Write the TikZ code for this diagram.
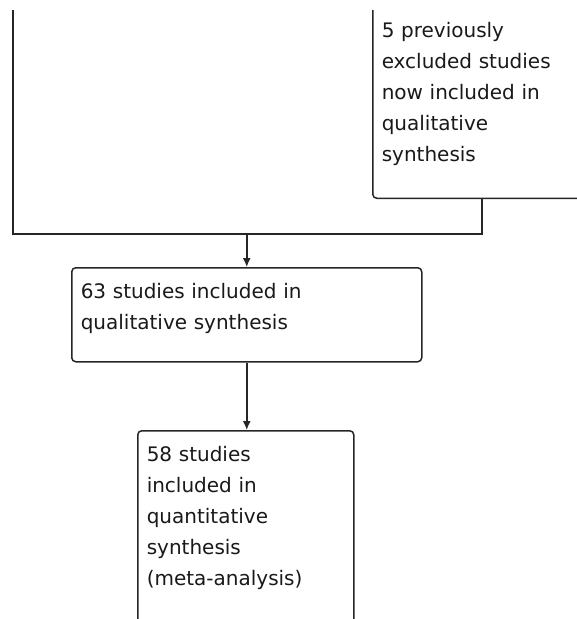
\documentclass[tikz,border=0pt]{standalone}
\usepackage{fontspec}
\setmainfont{DejaVu Sans}
\usetikzlibrary{arrows.meta}
\tikzset{
    flowbox/.style={draw=black!85, line width=1.5pt, rounded corners=4pt, align=left,
        inner xsep=9pt, inner ysep=16pt, text height=15pt,
        font=\fontsize{20}{31}\selectfont, text=black!90},
    flowline/.style={draw=black!85, line width=1.5pt},
    flowarrow/.style={flowline, -{Latex[length=9pt,width=8pt]}}
}
\begin{document}
\begin{tikzpicture}[x=1pt,y=1pt]
    \useasboundingbox (0,0) rectangle (577,-619);
    \clip (0,-10) rectangle (577,-619);
    \node (prev) at (372,-199) [flowbox, anchor=south west, text width=200pt, text depth=145pt]
        {5 previously\\excluded studies\\now included in\\qualitative\\synthesis};
    \node (incl) at (71,-267) [flowbox, anchor=north west, text width=332pt, text depth=47pt]
        {63 studies included in\\qualitative synthesis};
    \node (quant) at (137,-430) [flowbox, anchor=north west, text width=198pt, text depth=175pt]
        {58 studies\\included in\\quantitative\\synthesis\\(meta-analysis)};
    \coordinate (lefttop) at (13,-10);
    \coordinate (join) at (incl.north |- 0,-234);
    \draw [flowline] (lefttop) |- (join) -| (prev.south);
    \draw [flowarrow] (join) -- (incl.north);
    \draw [flowarrow] (incl.south) -- (incl.south |- quant.north);
\end{tikzpicture}
\end{document}
